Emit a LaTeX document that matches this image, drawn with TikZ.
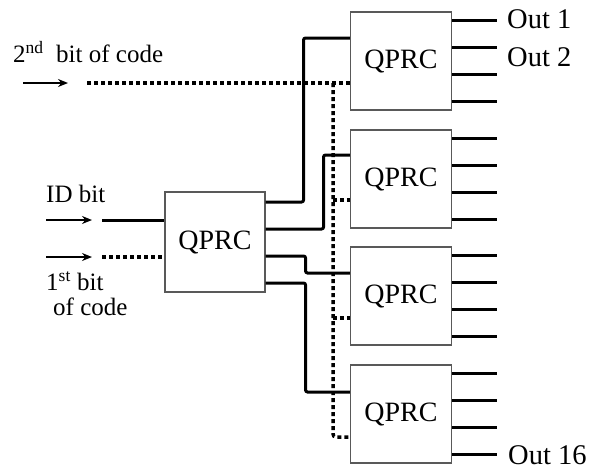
\documentclass[tikz,border=0pt]{standalone}
\usepackage{fontspec}
\setmainfont{Liberation Serif}
\usetikzlibrary{arrows.meta,calc}
\begin{document}
\begin{tikzpicture}[x=1pt,y=-1pt,
  qbox/.style={draw=black!65, line width=1.1pt, minimum width=101pt, minimum height=98pt, inner sep=0pt, font=\fontsize{28}{32}\selectfont},
  wire/.style={line width=3pt, rounded corners=2pt},
  dotwire/.style={line width=3.5pt, dash pattern=on 4pt off 3pt, rounded corners=3pt},
  lbl/.style={anchor=west, inner sep=0pt, font=\fontsize{25}{28}\selectfont},
  outlbl/.style={anchor=west, inner sep=0pt, font=\fontsize{28.5}{32}\selectfont},
  inarrow/.style={line width=1.5pt, -{Stealth[length=10pt,width=8pt]}}]
\useasboundingbox (0,0) rectangle (600,469);

% boxes
\node[qbox, minimum width=100pt, minimum height=100pt] (L) at (215,242) {QPRC};
\node[qbox] (B1) at (401,61) {QPRC};
\node[qbox] (B2) at (401,179) {QPRC};
\node[qbox] (B3) at (401,296) {QPRC};
\node[qbox] (B4) at (401,414) {QPRC};

% outputs
\foreach \b in {B1,B2,B3,B4}
  \foreach \d in {-41,-14,13,40}
    \draw[line width=3pt] ($(\b.east)+(0,\d)$) -- ++(45,0);

% left box to right boxes
\draw[wire] ($(L.east)+(0,-40)$) -- ++(38,0) |- ($(B1.west)+(0,-23)$);
\draw[wire] ($(L.east)+(0,-13)$) -- ++(58,0) |- ($(B2.west)+(0,-24)$);
\draw[wire] ($(L.east)+(0,14)$) -- ++(40,0) |- ($(B3.west)+(0,-23)$);
\draw[wire] ($(L.east)+(0,41)$) -- ++(40,0) |- ($(B4.west)+(0,-22)$);

% 2nd bit dotted
\coordinate (c2) at (87,83);
\coordinate (vtop) at (333,83);
\draw[dotwire] (c2) -- ($(B1.west)+(0,22)$);
\draw[dotwire] (vtop) |- ($(B4.west)+(0,23)$);
\draw[dotwire] ($(B2.west)+(-17,21)$) -- ($(B2.west)+(0,21)$);
\draw[dotwire] ($(B3.west)+(-17,22)$) -- ($(B3.west)+(0,22)$);

% inputs
\coordinate (a2s) at (23,83);  \coordinate (a2e) at (68,83);
\coordinate (ais) at (46,220); \coordinate (aie) at (92,220);
\coordinate (a1s) at (46,257); \coordinate (a1e) at (92,257);
\draw[inarrow] (a2s) -- (a2e);
\draw[inarrow] (ais) -- (aie);
\draw[inarrow] (a1s) -- (a1e);
\coordinate (idin) at (102,220);
\coordinate (b1in) at (102,257);
\draw[line width=3pt] (idin) -- ($(L.west)+(0,-22)$);
\draw[dotwire] (b1in) -- ($(L.west)+(0,15)$);

% labels
\node[lbl] (t2) at (13,52) {2\textsuperscript{nd}\ \ bit of code};
\node[lbl] (tid) at (46,194) {ID bit};
\node[lbl] (t1a) at (46,281) {1\textsuperscript{st} bit};
\node[lbl] (t1b) at (53,307) {of code};
\node[outlbl] (o1) at (507,19) {Out 1};
\node[outlbl] (o2) at (507,57) {Out 2};
\node[outlbl] (o16) at (508,455) {Out 16};
\end{tikzpicture}
\end{document}
